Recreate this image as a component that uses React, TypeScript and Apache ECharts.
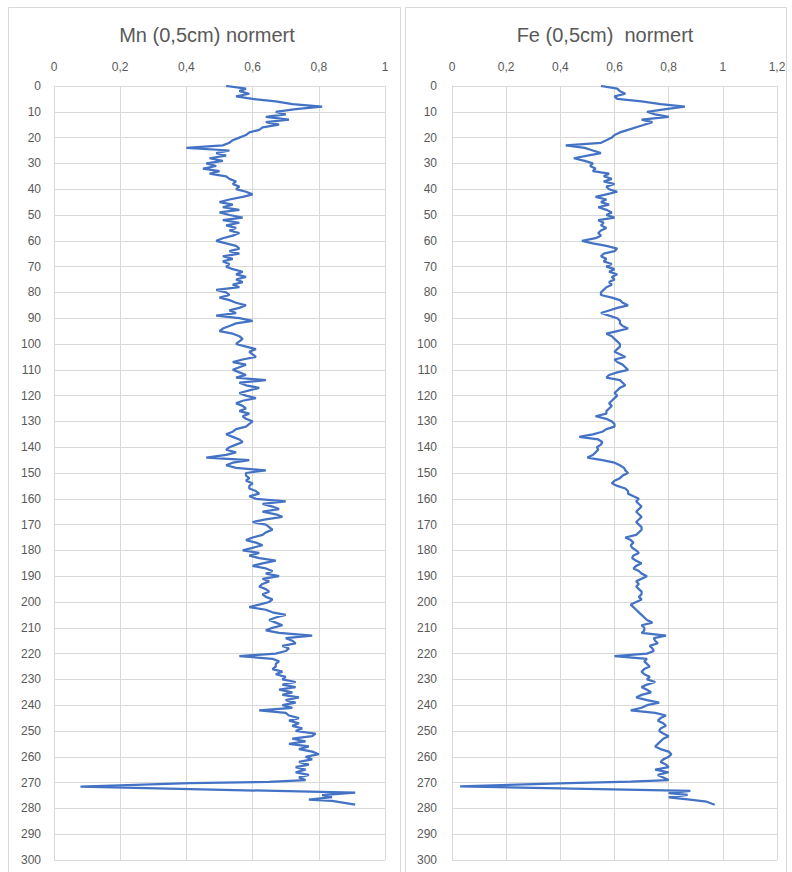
import React, { useEffect, useRef } from "react";
import * as echarts from "echarts";

// Depth samples (cm), 1 cm apart, 0..269
const DEPTH: number[] = Array.from({ length: 270 }, (_, i) => i);

const MN: number[] = [
  0.52, 0.58, 0.56, 0.59, 0.55, 0.6, 0.67, 0.72, 0.81, 0.73,
  0.67, 0.7, 0.64, 0.71, 0.64, 0.68, 0.63, 0.62, 0.59, 0.58,
  0.56, 0.54, 0.53, 0.51, 0.4, 0.53, 0.49, 0.52, 0.47, 0.51,
  0.46, 0.49, 0.45, 0.5, 0.47, 0.52, 0.53, 0.55, 0.54, 0.56,
  0.55, 0.58, 0.6, 0.57, 0.53, 0.5, 0.54, 0.51, 0.56, 0.5,
  0.53, 0.57, 0.51, 0.56, 0.52, 0.55, 0.53, 0.56, 0.54, 0.51,
  0.49, 0.52, 0.55, 0.56, 0.53, 0.56, 0.51, 0.54, 0.51, 0.53,
  0.52, 0.54, 0.57, 0.55, 0.58, 0.55, 0.57, 0.54, 0.56, 0.49,
  0.52, 0.53, 0.5, 0.53, 0.55, 0.58, 0.56, 0.53, 0.55, 0.49,
  0.56, 0.6, 0.55, 0.53, 0.51, 0.5, 0.54, 0.56, 0.57, 0.56,
  0.55, 0.58, 0.61, 0.59, 0.6, 0.61, 0.57, 0.54, 0.58, 0.56,
  0.54, 0.56, 0.58, 0.55, 0.64, 0.56, 0.58, 0.62, 0.59, 0.56,
  0.58, 0.61, 0.57, 0.55, 0.57, 0.58, 0.56, 0.59, 0.57, 0.58,
  0.6, 0.59, 0.58, 0.55, 0.54, 0.52, 0.54, 0.56, 0.57, 0.55,
  0.53, 0.52, 0.55, 0.52, 0.46, 0.59, 0.54, 0.52, 0.55, 0.64,
  0.58, 0.58, 0.59, 0.58, 0.6, 0.59, 0.59, 0.61, 0.62, 0.59,
  0.61, 0.7, 0.63, 0.66, 0.68, 0.63, 0.67, 0.69, 0.64, 0.6,
  0.64, 0.65, 0.66, 0.64, 0.63, 0.6, 0.58, 0.61, 0.63, 0.6,
  0.57, 0.62, 0.59, 0.62, 0.67, 0.63, 0.6, 0.64, 0.66, 0.64,
  0.68, 0.63, 0.65, 0.63, 0.62, 0.64, 0.65, 0.63, 0.64, 0.66,
  0.65, 0.62, 0.59, 0.64, 0.66, 0.7, 0.67, 0.65, 0.67, 0.69,
  0.66, 0.64, 0.68, 0.78, 0.7, 0.72, 0.73, 0.69, 0.71, 0.7,
  0.67, 0.56, 0.66, 0.68, 0.67, 0.67, 0.66, 0.69, 0.67, 0.7,
  0.69, 0.73, 0.69, 0.73, 0.68, 0.72, 0.69, 0.74, 0.7, 0.73,
  0.69, 0.72, 0.62, 0.7, 0.71, 0.74, 0.71, 0.74, 0.72, 0.75,
  0.73, 0.79, 0.78, 0.72, 0.76, 0.71, 0.77, 0.74, 0.78, 0.8,
  0.76, 0.78, 0.74, 0.77, 0.73, 0.76, 0.73, 0.77, 0.74, 0.76,
];
const MN_TAIL_DEPTH: number[] = [269.7, 270.2, 271.6, 273.9, 274.9, 275.6, 276.6, 277.1, 278.5];
const MN_TAIL: number[] = [0.65, 0.41, 0.08, 0.91, 0.81, 0.84, 0.77, 0.84, 0.91];

const FE: number[] = [
  0.55, 0.61, 0.62, 0.64, 0.6, 0.61, 0.7, 0.77, 0.86, 0.79,
  0.72, 0.75, 0.8, 0.7, 0.74, 0.71, 0.68, 0.65, 0.62, 0.6,
  0.59, 0.57, 0.55, 0.42, 0.49, 0.52, 0.55, 0.5, 0.45, 0.49,
  0.52, 0.51, 0.53, 0.52, 0.58, 0.56, 0.59, 0.56, 0.6, 0.57,
  0.58, 0.61, 0.57, 0.53, 0.57, 0.55, 0.58, 0.54, 0.57, 0.59,
  0.57, 0.6, 0.54, 0.56, 0.55, 0.57, 0.55, 0.54, 0.55, 0.53,
  0.48, 0.52, 0.57, 0.61, 0.6, 0.56, 0.55, 0.57, 0.56, 0.59,
  0.57, 0.6, 0.58, 0.61, 0.59, 0.6, 0.58, 0.59, 0.57, 0.56,
  0.55, 0.55, 0.59, 0.62, 0.63, 0.65, 0.61, 0.58, 0.55, 0.58,
  0.61, 0.62, 0.62, 0.63, 0.65, 0.61, 0.57, 0.59, 0.6, 0.61,
  0.62, 0.62, 0.61, 0.6, 0.62, 0.64, 0.6, 0.61, 0.63, 0.64,
  0.65, 0.61, 0.58, 0.57, 0.62, 0.63, 0.64, 0.62, 0.61, 0.6,
  0.61, 0.6, 0.59, 0.58, 0.59, 0.58, 0.57, 0.57, 0.53, 0.57,
  0.59, 0.6, 0.6, 0.57, 0.555, 0.52, 0.47, 0.54, 0.555, 0.55,
  0.535, 0.54, 0.53, 0.52, 0.5, 0.555, 0.6, 0.62, 0.635, 0.64,
  0.65, 0.63, 0.62, 0.6, 0.59, 0.61, 0.64, 0.65, 0.65, 0.67,
  0.69, 0.68, 0.69, 0.7, 0.69, 0.68, 0.69, 0.7, 0.69, 0.68,
  0.69, 0.7, 0.7, 0.69, 0.68, 0.64, 0.66, 0.67, 0.66, 0.665,
  0.68, 0.69, 0.67, 0.665, 0.68, 0.7, 0.68, 0.67, 0.69, 0.7,
  0.72, 0.7, 0.68, 0.69, 0.68, 0.69, 0.7, 0.7, 0.69, 0.7,
  0.68, 0.66, 0.67, 0.68, 0.69, 0.7, 0.71, 0.72, 0.74, 0.7,
  0.71, 0.71, 0.7, 0.79, 0.745, 0.75, 0.76, 0.73, 0.74, 0.745,
  0.72, 0.6, 0.72, 0.71, 0.72, 0.73, 0.71, 0.7, 0.71, 0.73,
  0.72, 0.75, 0.72, 0.7, 0.72, 0.735, 0.7, 0.68, 0.72, 0.765,
  0.72, 0.7, 0.66, 0.75, 0.79, 0.77, 0.76, 0.78, 0.79, 0.77,
  0.765, 0.78, 0.8, 0.78, 0.77, 0.76, 0.75, 0.77, 0.8, 0.81,
  0.8, 0.78, 0.77, 0.79, 0.8, 0.75, 0.8, 0.76, 0.78, 0.8,
];
const FE_TAIL_DEPTH: number[] = [269.6, 270.2, 271.5, 273.2, 274.1, 274.8, 275.7, 276.5, 277.4, 278.6];
const FE_TAIL: number[] = [0.66, 0.43, 0.03, 0.88, 0.8, 0.87, 0.8, 0.87, 0.94, 0.97];

const TITLES = ["Mn (0,5cm) normert", "Fe (0,5cm)  normert"];
const X_MAX = [1, 1.2];

const FONT = "'Liberation Sans', Arial, sans-serif";
const TEXT = "#595959";
const GRID = "#d9d9d9";
const LINE = "#4472C4";

function pairs(vals: number[], depths: number[]) {
  return depths.map((d, i) => [vals[i], d]);
}

export default function App() {
  const ref = useRef<HTMLDivElement>(null);
  useEffect(() => {
    if (!ref.current) return;
    const chart = echarts.init(ref.current, null, { renderer: "svg" });
    const fmt = (v: number) => String(Number(v.toFixed(1))).replace(".", ",");
    const xAxis = (idx: number) => ({
      type: "value",
      gridIndex: idx,
      position: "top",
      min: 0,
      max: X_MAX[idx],
      interval: 0.2,
      axisLine: { show: false },
      axisTick: { show: false },
      splitLine: { show: true, lineStyle: { color: GRID, width: 1 } },
      axisLabel: { color: TEXT, fontSize: 12, fontFamily: FONT, margin: 13, formatter: fmt },
    });
    const yAxis = (idx: number) => ({
      type: "value",
      gridIndex: idx,
      inverse: true,
      min: 0,
      max: 300,
      interval: 10,
      axisLine: { show: false },
      axisTick: { show: false },
      splitLine: { show: true, lineStyle: { color: GRID, width: 1 } },
      axisLabel: { color: TEXT, fontSize: 12, fontFamily: FONT, margin: idx === 0 ? 13 : 15 },
    });
    const mnData = pairs(MN, DEPTH).concat(pairs(MN_TAIL, MN_TAIL_DEPTH));
    const feData = pairs(FE, DEPTH).concat(pairs(FE_TAIL, FE_TAIL_DEPTH));
    chart.setOption({
      animation: false,
      backgroundColor: "#ffffff",
      grid: [
        { left: 54, width: 331, top: 86, height: 774 },
        { left: 452, width: 325, top: 86, height: 774 },
      ],
      xAxis: [xAxis(0), xAxis(1)],
      yAxis: [yAxis(0), yAxis(1)],
      series: [
        {
          type: "line",
          name: "Mn",
          xAxisIndex: 0,
          yAxisIndex: 0,
          data: mnData,
          showSymbol: false,
          lineStyle: { color: LINE, width: 2.25 },
        },
        {
          type: "line",
          name: "Fe",
          xAxisIndex: 1,
          yAxisIndex: 1,
          data: feData,
          showSymbol: false,
          lineStyle: { color: LINE, width: 2.25 },
        },
      ],
      graphic: [
        {
          type: "rect",
          shape: { x: 8.5, y: 7.5, width: 392, height: 900 },
          style: { fill: "none", stroke: GRID, lineWidth: 1 },
          silent: true,
        },
        {
          type: "rect",
          shape: { x: 405.5, y: 7.5, width: 381, height: 900 },
          style: { fill: "none", stroke: GRID, lineWidth: 1 },
          silent: true,
        },
        {
          type: "text",
          x: 207,
          y: 35,
          style: {
            text: TITLES[0],
            fill: TEXT,
            font: `20px ${FONT}`,
            textAlign: "center",
            textVerticalAlign: "middle",
          },
        },
        {
          type: "text",
          x: 605,
          y: 35,
          style: {
            text: TITLES[1],
            fill: TEXT,
            font: `20px ${FONT}`,
            textAlign: "center",
            textVerticalAlign: "middle",
          },
        },
      ],
    });
    return () => chart.dispose();
  }, []);
  return (
    <div
      ref={ref}
      style={{ position: "fixed", left: 0, top: 0, width: 792, height: 872, background: "#fff" }}
    />
  );
}
